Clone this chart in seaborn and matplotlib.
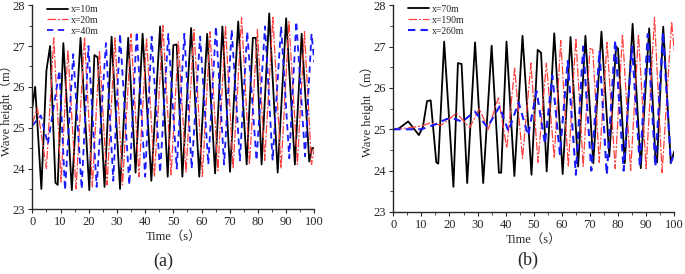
import matplotlib.pyplot as plt
import seaborn as sns

# painel (a): picos e vales
t_10 = [0, 1, 3.2, 5.0, 6.3, 8.2, 9.0, 11, 14, 17.1, 20.2, 22.0, 23.2, 25.6, 28.1, 31.1, 34, 36.6,
        39.1, 42.2, 45.3, 48, 50.0, 51.2, 53.2, 56.3, 59.2, 62, 64.8, 67.4, 70.1, 73, 76, 78.2,
        79.3, 81.3, 84, 87, 90, 93.1, 95.5, 98.2, 99.2, 100]
h_10 = [25.5, 26.0, 23.5, 26.4, 27.0, 23.65, 23.6, 27.07, 23.47, 27.2, 23.47, 26.78, 26.72, 23.55,
        27.23, 23.5, 27.2, 23.9, 27.3, 23.7, 27.48, 23.8, 27.02, 27.04, 23.8, 27.44, 23.8, 27.3,
        23.88, 27.48, 23.92, 27.6, 24.1, 27.2, 27.2, 24.1, 27.8, 23.9, 27.68, 24.1, 27.3, 24.17,
        24.5, 24.5]
t_20 = [0, 1.8, 5.0, 7.6, 10.2, 12.6, 15.5, 18.5, 21.3, 23.8, 26.5, 29.3, 32.0, 35.0, 37.8, 40.5,
        43.3, 46.3, 49.2, 51.8, 54.5, 57.3, 60.3, 63.0, 65.8, 68.5, 71.2, 74.2, 77.0, 79.8, 82.4,
        85.3, 88.2, 91.0, 94.0, 96.5, 99.0, 100]
h_20 = [25.1, 25.48, 24.0, 27.2, 23.67, 26.9, 23.5, 27.22, 23.55, 26.9, 23.6, 27.2, 23.6, 27.3,
        23.8, 27.2, 23.8, 27.5, 23.85, 27.1, 23.9, 27.4, 23.8, 27.35, 23.95, 27.5, 24.0, 27.7,
        24.1, 27.4, 24.2, 27.7, 24.0, 27.6, 24.1, 27.35, 24.1, 24.5]
t_40 = [0, 3.0, 5.5, 9.6, 11.6, 14.5, 17.5, 19.9, 22.8, 26.1, 28.7, 31.1, 34.4, 37.0, 40.0, 42.3,
        45.3, 48.2, 51.2, 53.9, 56.5, 59.5, 62.4, 65.1, 68.0, 70.7, 73.6, 76.2, 79.5, 82.5, 85.2,
        88.2, 91.1, 93.6, 96.7, 99.0, 100]
h_40 = [25.05, 25.3, 24.6, 26.4, 23.47, 26.8, 23.5, 27.0, 23.55, 27.07, 23.7, 27.3, 23.6, 27.35,
        23.8, 27.23, 23.9, 27.3, 24.0, 27.3, 24.0, 27.23, 24.1, 27.48, 24.1, 27.4, 24.2, 27.35,
        24.2, 27.48, 24.2, 27.48, 24.25, 27.6, 24.3, 27.3, 26.6]

# painel (b)
t_70 = [0, 2, 5.3, 9.1, 10.5, 12.0, 13.3, 15.3, 16.0, 18.1, 21.4, 23.0, 24.3, 26.3, 29.1, 32.0,
        35.0, 37.6, 38.4, 40.3, 43.1, 46.0, 49.2, 51.4, 52.6, 54.6, 57.3, 60.3, 63.1, 65.8, 68.4,
        71.2, 74.1, 76.9, 79.3, 80.0, 82.4, 85.2, 88.1, 91.1, 93.4, 93.9, 96.1, 98.8, 100]
h_70 = [25.0, 25.02, 25.19, 24.86, 25.05, 25.68, 25.7, 24.2, 24.17, 27.12, 23.61, 26.6, 26.58,
        23.7, 27.1, 23.7, 27.02, 23.95, 23.95, 27.12, 23.87, 27.26, 23.9, 26.92, 26.85, 23.98,
        27.32, 23.92, 27.23, 24.1, 27.26, 24.18, 27.36, 24.34, 27.0, 26.95, 24.18, 27.55, 24.06,
        27.44, 24.2, 24.2, 27.48, 24.18, 24.46]
t_190 = [0, 5, 10, 13, 17, 19, 22.5, 27.2, 30.6, 33.8, 37.4, 40.4, 43.2, 46, 49, 51.5, 54.5, 57.3,
         59.6, 62.3, 65.0, 67.6, 70.0, 71.0, 73.3, 76.1, 79.0, 81.6, 84.5, 87.3, 90.0, 93.0, 95.7,
         99.1, 100]
h_190 = [25.0, 25.03, 25.08, 25.15, 25.1, 25.2, 25.39, 25.04, 25.5, 25.0, 25.76, 24.55, 26.48,
         24.3, 26.6, 24.2, 26.6, 24.3, 27.15, 24.1, 27.2, 24.1, 26.95, 26.93, 24.2, 27.1, 24.05,
         27.3, 24.0, 27.3, 24.05, 27.7, 23.95, 27.6, 26.9]
t_260 = [0, 10, 15, 19, 22, 24.5, 29, 33.5, 37.8, 41.0, 44.6, 48.0, 51.0, 54.0, 56.6, 59.3, 62.1,
         65.0, 67.6, 70.5, 73.4, 76.0, 79.0, 82.0, 85.0, 87.8, 90.6, 93.3, 96.0, 98.8, 100]
h_260 = [25.0, 25.0, 25.12, 25.25, 25.25, 25.18, 25.43, 25.05, 25.55, 24.95, 25.65, 24.85, 25.92,
         24.65, 26.3, 24.4, 26.65, 23.9, 27.0, 24.0, 26.9, 23.9, 27.15, 24.0, 27.0, 24.1, 27.3,
         24.1, 27.35, 24.2, 24.4]

sns.set_theme(style="ticks")
plt.rcParams['font.family'] = ['Liberation Serif', 'Noto Sans CJK SC']
plt.rcParams['axes.linewidth'] = 1.0

fig = plt.figure(figsize=(6.85, 2.74), dpi=100)
ax1 = fig.add_axes([0.0472, 0.236, 0.4117, 0.745])
ax2 = fig.add_axes([0.5742, 0.2263, 0.410, 0.7547])

red_ls = (0, (7, 1.5, 1.5, 1.5))
blue_ls = (0, (3.5, 2.5))

sns.lineplot(x=t_10, y=h_10, ax=ax1, color="black", lw=1.3, label="x=10m")
sns.lineplot(x=t_20, y=h_20, ax=ax1, color="#ff4040", lw=0.9, linestyle=red_ls, label="x=20m")
sns.lineplot(x=t_40, y=h_40, ax=ax1, color="#1a1aff", lw=1.3, linestyle=blue_ls, label="x=40m")

sns.lineplot(x=t_70, y=h_70, ax=ax2, color="black", lw=1.3, label="x=70m")
sns.lineplot(x=t_190, y=h_190, ax=ax2, color="#ff4040", lw=0.9, linestyle=red_ls, label="x=190m")
sns.lineplot(x=t_260, y=h_260, ax=ax2, color="#1a1aff", lw=1.5, linestyle=blue_ls, label="x=260m")

for ax in [ax1, ax2]:
    ax.set_xlim(0, 100)
    ax.set_ylim(23, 28)
    ax.set_xticks(range(0, 101, 10))
    ax.set_xticks(range(5, 100, 10), minor=True)
    ax.set_yticks(range(23, 29))
    ax.set_yticks([23.5, 24.5, 25.5, 26.5, 27.5], minor=True)
    ax.tick_params(which="major", direction="out", length=3, width=0.8, labelsize=9, pad=2)
    ax.tick_params(which="minor", direction="out", length=2, width=0.6)
    ax.set_xlabel("Time（s）", fontsize=9, labelpad=2)
    ax.set_ylabel("Wave height（m）", fontsize=9)
    ax.yaxis.set_label_coords(-0.068, 0.5)
    sns.despine(ax=ax)
    ax.legend(loc="upper left", bbox_to_anchor=(0.03, 1.03), frameon=False, fontsize=7,
              handlelength=2.2, handletextpad=0.3, labelspacing=0.2, borderaxespad=0.2)

# legendas dos paineis
fig.text(163 / 685, 0.045, "(a)", ha="center", va="center", fontsize=13)
fig.text(528 / 685, 0.05, "(b)", ha="center", va="center", fontsize=13)

fig.savefig("out.png", dpi=100)
